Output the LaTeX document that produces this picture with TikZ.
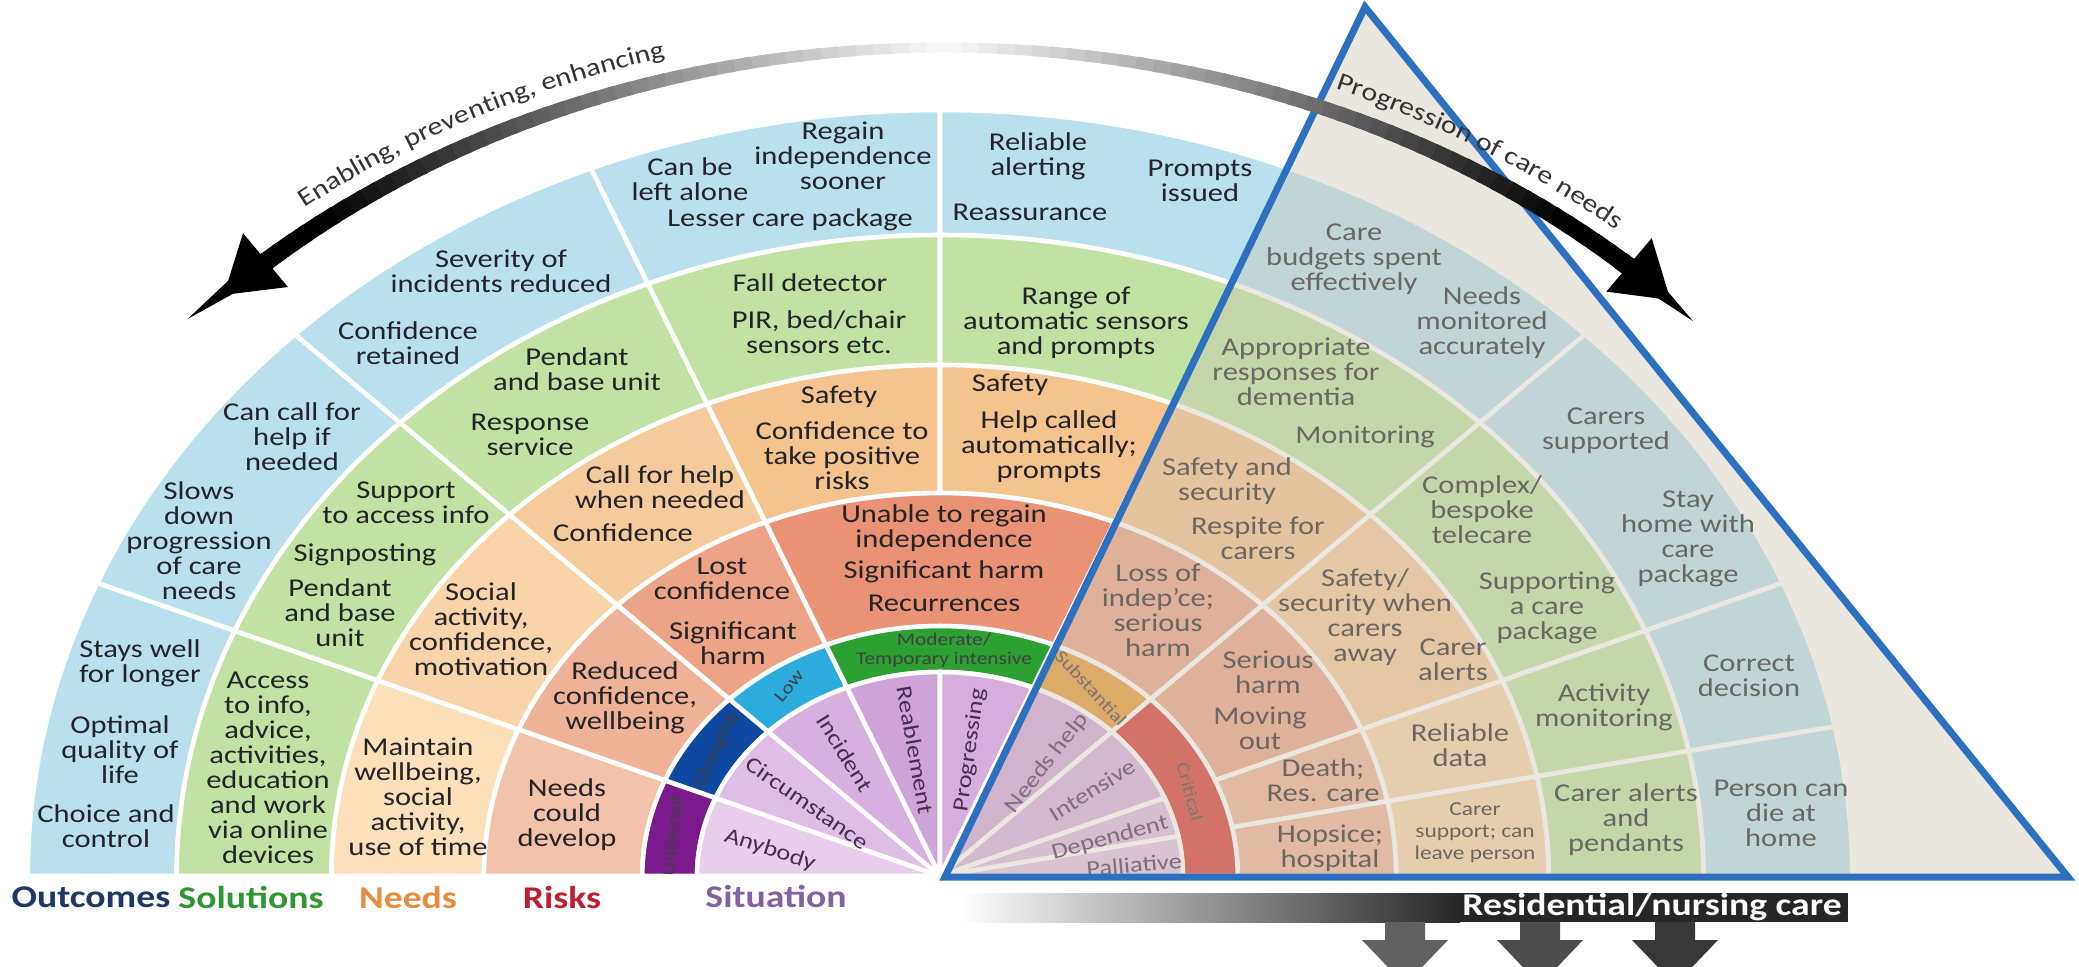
\documentclass[tikz,border=0pt]{standalone}
\usepackage{fontspec}
\setmainfont{Carlito}[FakeStretch=1.19]
\usetikzlibrary{arrows.meta,decorations.text}

\definecolor{outBlue}{RGB}{186,224,238}
\definecolor{solGreen}{RGB}{194,226,164}
\definecolor{needA}{RGB}{251,224,186}
\definecolor{needB}{RGB}{248,212,168}
\definecolor{needC}{RGB}{246,203,155}
\definecolor{needD}{RGB}{245,195,142}
\definecolor{riskA}{RGB}{243,194,170}
\definecolor{riskB}{RGB}{240,178,150}
\definecolor{riskC}{RGB}{237,163,134}
\definecolor{riskD}{RGB}{234,146,116}
\definecolor{bandU}{RGB}{122,26,140}
\definecolor{bandC}{RGB}{14,72,160}
\definecolor{bandL}{RGB}{44,172,220}
\definecolor{bandM}{RGB}{44,160,48}
\definecolor{bandS}{RGB}{232,152,52}
\definecolor{bandR}{RGB}{216,56,46}
\definecolor{sitA}{RGB}{232,206,236}
\definecolor{sitB}{RGB}{222,190,228}
\definecolor{sitC}{RGB}{214,176,222}
\definecolor{sitD}{RGB}{206,163,216}
\definecolor{sitE}{RGB}{214,174,222}
\definecolor{sitF}{RGB}{210,168,220}
\definecolor{sitG}{RGB}{214,176,222}
\definecolor{sitH}{RGB}{219,185,226}
\definecolor{sitI}{RGB}{225,195,230}
\definecolor{sitText}{RGB}{70,45,80}
\definecolor{cellText}{RGB}{35,35,40}
\definecolor{triFill}{RGB}{205,198,182}
\definecolor{triLine}{RGB}{46,112,192}
\definecolor{labOut}{RGB}{30,55,100}
\definecolor{labSol}{RGB}{48,150,50}
\definecolor{labNeed}{RGB}{232,140,62}
\definecolor{labRisk}{RGB}{192,30,48}
\definecolor{labSit}{RGB}{130,98,162}

% #1 colour, #2/#3 start/end angle, #4/#5 inner/outer radius
\newcommand\WheelCell[5]{%
    \fill[#1, draw=white, line width=1.3pt] (#2:#4) -- (#2:#5)
        arc[start angle=#2, end angle=#3, radius=#5] -- (#3:#4)
        arc[start angle=#3, end angle=#2, radius=#4] -- cycle;
}
\newcommand\CellFont{\fontsize{7.3}{7.1}\selectfont}
\newcommand\ArcFont{\fontsize{7.2}{8}\selectfont}

\tikzset{
    cell/.style={font=\CellFont, text=cellText, align=center, inner sep=0pt},
    smallcell/.style={cell, font=\fontsize{5.6}{6.3}\selectfont},
    bandlabel/.style={font=\fontsize{5.1}{5.4}\selectfont, text=black!75, align=center, inner sep=0pt},
    sitlabel/.style={font=\fontsize{6.3}{7}\selectfont, text=sitText, inner sep=0pt},
    ringlabel/.style={font=\fontsize{9}{10}\selectfont\bfseries, inner sep=0pt},
}

\begin{document}
\begin{tikzpicture}[x=0.01cm, y=-0.01cm]
    \useasboundingbox (0,0) rectangle (2079,966);

    \begin{scope}[shift={(940,876)}, x=0.0119cm, y=0.01cm] % wheel
        \foreach \a/\b in {157.5/180, 135/157.5, 112.5/135, 90/112.5, 67.5/90, 45/67.5, 22.5/45, 11.25/22.5, 0/11.25}
            \WheelCell{outBlue}{\a}{\b}{641}{766};
        \foreach \a/\b in {157.5/180, 135/157.5, 112.5/135, 90/112.5, 67.5/90, 45/67.5, 22.5/45, 11.25/22.5, 0/11.25}
            \WheelCell{solGreen}{\a}{\b}{511}{641};
        \foreach \a/\b/\c in {157.5/180/needA, 135/157.5/needB, 112.5/135/needC, 90/112.5/needD, 67.5/90/needD, 45/67.5/needD, 22.5/45/needC, 11.25/22.5/needB, 0/11.25/needB}
            \WheelCell{\c}{\a}{\b}{383}{511};
        \foreach \a/\b/\c in {157.5/180/riskA, 135/157.5/riskB, 112.5/135/riskC, 67.5/112.5/riskD, 45/67.5/riskC, 22.5/45/riskC, 11.25/22.5/riskB, 0/11.25/riskB}
            \WheelCell{\c}{\a}{\b}{250}{383};
        \foreach \a/\b/\c in {157.5/180/bandU, 135/157.5/bandC, 112.5/135/bandL, 67.5/112.5/bandM, 45/67.5/bandS, 0/45/bandR}
            \WheelCell{\c}{\a}{\b}{204}{250};
        \foreach \a/\b/\c in {157.5/180/sitA, 135/157.5/sitB, 112.5/135/sitC, 90/112.5/sitD, 67.5/90/sitE, 45/67.5/sitF, 22.5/45/sitG, 11.25/22.5/sitH, 0/11.25/sitI}
            \WheelCell{\c}{\a}{\b}{1}{204};
    \end{scope}

    % outcomes
    \node[cell] (OutStays) at (140,663) {Stays well\\for longer};
    \node[cell] (OutOptimal) at (120,750) {Optimal\\quality of\\life};
    \node[cell] (OutChoice) at (106,826) {Choice and\\control};
    \node[cell] (OutSlows) at (199,541) {Slows\\down\\progression\\of care\\needs};
    \node[cell] (OutCall) at (292,437) {Can call for\\help if\\needed};
    \node[cell] (OutConf) at (408,343) {Confidence\\retained};
    \node[cell] (OutSeverity) at (501,271) {Severity of\\incidents reduced};
    \node[cell] (OutAlone) at (690,179) {Can be\\left alone};
    \node[cell] (OutRegain) at (843,156) {Regain\\independence\\sooner};
    \node[cell] (OutLesser) at (790,220) {Lesser care package};
    \node[cell] (OutReliable) at (1038,156) {Reliable\\alerting};
    \node[cell] (OutReassure) at (1030,212) {Reassurance};
    \node[cell] (OutPrompts) at (1200,181) {Prompts\\issued};
    \node[cell] (OutBudgets) at (1354,259) {Care\\budgets spent\\effectively};
    \node[cell] (OutMonitored) at (1482,323) {Needs\\monitored\\accurately};
    \node[cell] (OutCarers) at (1606,431) {Carers\\supported};
    \node[cell] (OutStay) at (1688,539) {Stay\\home with\\care\\package};
    \node[cell] (OutCorrect) at (1749,676) {Correct\\decision};
    \node[cell] (OutDie) at (1781,813) {Person can\\die at\\home};

    % solutions
    \node[cell] (SolAccess) at (268,768) {Access\\to info,\\advice,\\activities,\\education\\and work\\via online\\devices};
    \node[cell] (SolSupport) at (406,503) {Support\\to access info};
    \node[cell] (SolSign) at (365,555) {Signposting};
    \node[cell] (SolPendA) at (340,613) {Pendant\\and base\\unit};
    \node[cell] (SolPendB) at (577,369) {Pendant\\and base unit};
    \node[cell] (SolResponse) at (530,435) {Response\\service};
    \node[cell] (SolFall) at (810,283) {Fall detector};
    \node[cell] (SolPIR) at (819,332) {PIR, bed/chair\\sensors etc.};
    \node[cell] (SolRange) at (1076,323) {Range of\\automatic sensors\\and prompts};
    \node[cell] (SolDementia) at (1296,372) {Appropriate\\responses for\\dementia};
    \node[cell] (SolMonitor) at (1365,437) {Monitoring};
    \node[cell] (SolComplex) at (1482,510) {Complex/\\bespoke\\telecare};
    \node[cell] (SolPackage) at (1547,608) {Supporting\\a care\\package};
    \node[cell] (SolActivity) at (1604,707) {Activity\\monitoring};
    \node[cell] (SolPendants) at (1626,820) {Carer alerts\\and\\pendants};

    % needs
    \node[cell] (NeedMaintain) at (418,797) {Maintain\\wellbeing,\\social\\activity,\\use of time};
    \node[cell] (NeedSocial) at (481,629) {Social\\activity,\\confidence,\\motivation};
    \node[cell] (NeedCall) at (660,487) {Call for help\\when needed};
    \node[cell] (NeedConf) at (623,533) {Confidence};
    \node[cell] (NeedSafetyA) at (839,397) {Safety};
    \node[cell] (NeedRisks) at (842,456) {Confidence to\\take positive\\risks};
    \node[cell] (NeedSafetyB) at (1010,385) {Safety};
    \node[cell] (NeedHelp) at (1049,447) {Help called\\automatically;\\prompts};
    \node[cell] (NeedSecurity) at (1227,481) {Safety and\\security};
    \node[cell] (NeedRespite) at (1258,538) {Respite for\\carers};
    \node[cell] (NeedAway) at (1365,617) {Safety/\\security when\\carers\\away};
    \node[cell] (NeedAlerts) at (1453,660) {Carer\\alerts};
    \node[cell] (NeedData) at (1460,745) {Reliable\\data};
    \node[smallcell] (NeedLeave) at (1475,833) {Carer\\support; can\\leave person};

    % risks
    \node[cell] (RiskDevelop) at (567,815) {Needs\\could\\develop};
    \node[cell] (RiskReduced) at (625,698) {Reduced\\confidence,\\wellbeing};
    \node[cell] (RiskLost) at (722,579) {Lost\\confidence};
    \node[cell] (RiskHarmA) at (733,643) {Significant\\harm};
    \node[cell] (RiskUnable) at (944,528) {Unable to regain\\independence};
    \node[cell] (RiskHarmB) at (944,572) {Significant harm};
    \node[cell] (RiskRecur) at (944,603) {Recurrences};
    \node[cell] (RiskLoss) at (1158,610) {Loss of\\indep'ce;\\serious\\harm};
    \node[cell] (RiskSerious) at (1268,672) {Serious\\harm};
    \node[cell] (RiskMoving) at (1260,728) {Moving\\out};
    \node[cell] (RiskDeath) at (1323,780) {Death;\\Res. care};
    \node[cell] (RiskHospice) at (1330,848) {Hopsice;\\hospital};

    % band
    \node[bandlabel, rotate=85] (BandUniversal) at (672,836) {Universal};
    \node[bandlabel, rotate=65] (BandChanging) at (716,750) {Changing};
    \node[bandlabel, rotate=50] (BandLow) at (789,686) {Low};
    \node[bandlabel] (BandModerate) at (944,650) {Moderate/\\Temporary intensive};
    \node[bandlabel, rotate=-47] (BandSubst) at (1091,688) {Substantial};
    \node[bandlabel, rotate=-75] (BandCritical) at (1190,792) {Critical};

    % situation
    \node[sitlabel, rotate=-18] (SitAnybody) at (770,850) {Anybody};
    \node[sitlabel, rotate=-35] (SitCirc) at (807,803) {Circumstance};
    \node[sitlabel, rotate=-58] (SitIncident) at (845,753) {Incident};
    \node[sitlabel, rotate=-80] (SitReable) at (915,750) {Reablement};
    \node[sitlabel, rotate=82] (SitProgress) at (970,750) {Progressing};
    \node[sitlabel, rotate=52] (SitNeedsHelp) at (1047,763) {Needs help};
    \node[sitlabel, rotate=32] (SitIntensive) at (1092,790) {Intensive};
    \node[sitlabel, rotate=15] (SitDependent) at (1110,838) {Dependent};
    \node[sitlabel, rotate=5] (SitPalliative) at (1134,865) {Palliative};

    % triangle
    \coordinate (TriLeft) at (945,877);
    \coordinate (TriTop) at (1365,7);
    \coordinate (TriRight) at (2068,877);
    \fill[triFill, opacity=0.42] (TriLeft) -- (TriTop) -- (TriRight) -- cycle;
    \draw[triLine, line width=2pt] (TriLeft) -- (TriTop) -- (TriRight) -- cycle;

    % arrows round the top
    \begin{scope}[shift={(944,876)}, x=10.1cm, y=8.28cm]
        \foreach \t in {90,...,131}{
            \pgfmathsetmacro\k{min(100,3+(\t-90)*2.6)}
            \pgfmathsetmacro\w{2.8+(\t-90)*0.06}
            \pgfmathsetmacro\e{\t+1.3}
            \draw[line width=\w pt, black!\k] (\t:1) arc[start angle=\t, end angle=\e, radius=1];
        }
        \draw[line width=5.4pt, black, -{Triangle[width=0.66cm, length=0.55cm]}] (132:1) arc[start angle=132, end angle=135.5, radius=1];
        \foreach \t in {90,89,...,49}{
            \pgfmathsetmacro\k{min(100,3+(90-\t)*2.6)}
            \pgfmathsetmacro\w{2.8+(90-\t)*0.06}
            \pgfmathsetmacro\e{\t-1.3}
            \draw[line width=\w pt, black!\k] (\t:1) arc[start angle=\t, end angle=\e, radius=1];
        }
        \draw[line width=5.4pt, black, -{Triangle[width=0.66cm, length=0.55cm]}] (48:1) arc[start angle=48, end angle=44, radius=1];
    \end{scope}
    \begin{scope}[shift={(944,876)}]
        \path[decorate, decoration={text along path, text align=center, text color=black!80,
            text={|\ArcFont|Enabling, preventing, enhancing}}]
            (130:10.32cm and 8.50cm) arc[start angle=130, end angle=104, x radius=10.32cm, y radius=8.50cm];
        \path[decorate, decoration={text along path, text align=center, text color=black!80,
            text={|\ArcFont|Progression of care needs}}]
            (70:10.32cm and 8.50cm) arc[start angle=70, end angle=47, x radius=10.32cm, y radius=8.50cm];
    \end{scope}

    % labels under the wheel
    \node[ringlabel, text=labOut] (LabOutcomes) at (91,897) {Outcomes};
    \node[ringlabel, text=labSol] (LabSolutions) at (251,897) {Solutions};
    \node[ringlabel, text=labNeed] (LabNeeds) at (408,897) {Needs};
    \node[ringlabel, text=labRisk] (LabRisks) at (562,897) {Risks};
    \node[ringlabel, text=labSit] (LabSituation) at (776,896) {Situation};

    % residential bar
    \shade[left color=white, right color=black!85] (960,893) rectangle (1460,922);
    \fill[black!85] (1459,893) rectangle (1848,922);
    \node[ringlabel, text=white] (ResCare) at (1652,907) {Residential/nursing care};
    \foreach \x/\c in {1405/black!62, 1540/black!70, 1675/black!78}
        \fill[\c] (\x-20,922) -- (\x+20,922) -- (\x+20,940) -- (\x+43,940) -- (\x,985)
            -- (\x-43,940) -- (\x-20,940) -- cycle;
\end{tikzpicture}
\end{document}
